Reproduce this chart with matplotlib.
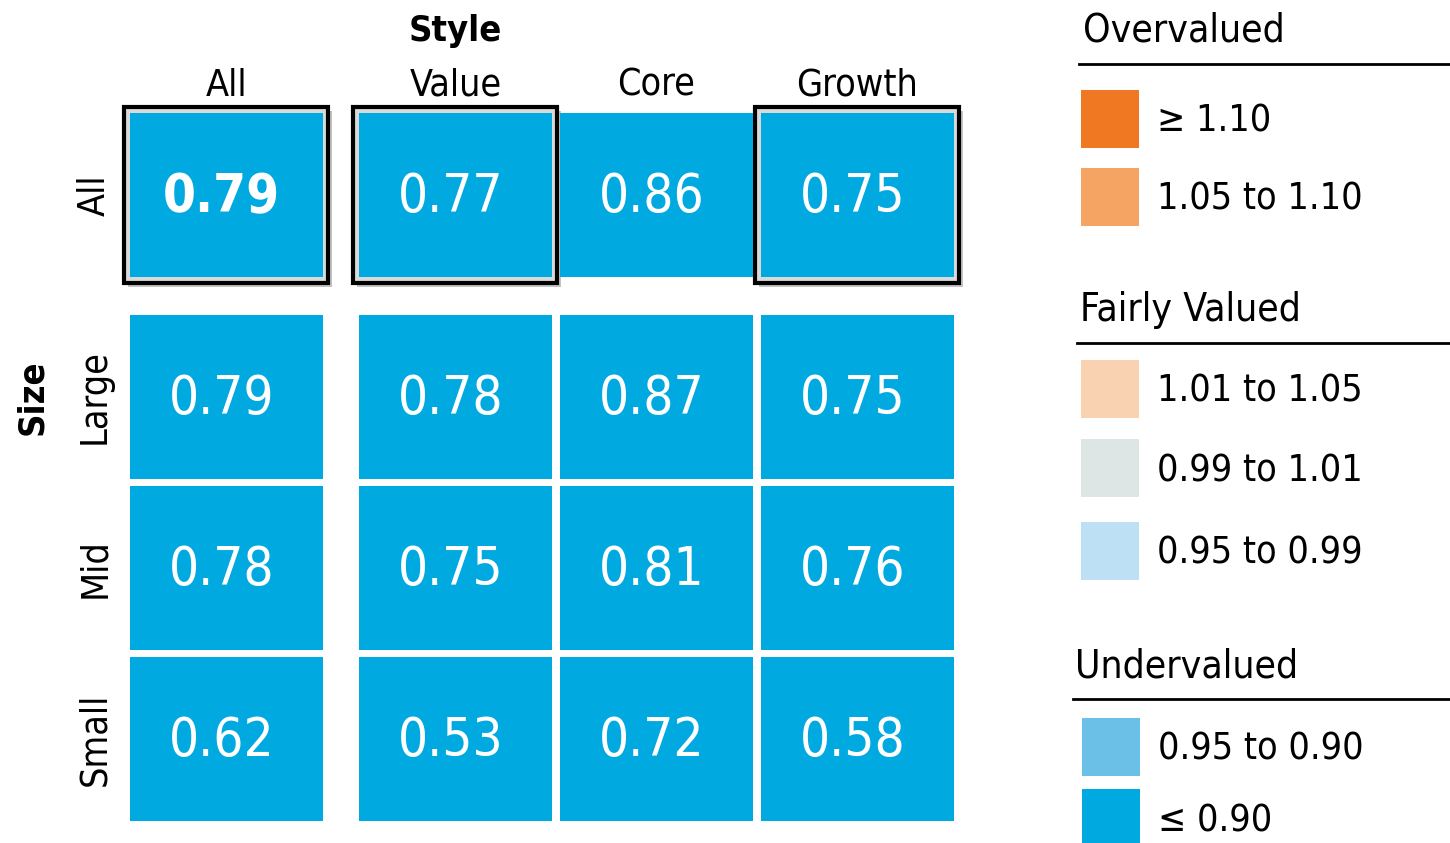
import matplotlib
matplotlib.use("Agg")

import matplotlib.pyplot as plt
import matplotlib.patheffects as pe
from matplotlib.colors import ListedColormap, BoundaryNorm
from matplotlib.patches import Rectangle

plt.rcParams['font.family'] = ['DejaVu Sans']
plt.rcParams['font.stretch'] = 'condensed'

# Data
styles = ["All", "Value", "Core", "Growth"]
sizes = ["All", "Large", "Mid", "Small"]
values = [
    [0.79, 0.77, 0.86, 0.75],
    [0.79, 0.78, 0.87, 0.75],
    [0.78, 0.75, 0.81, 0.76],
    [0.62, 0.53, 0.72, 0.58],
]
boxed = [(0, 0), (0, 1), (0, 3)]
bold_cell = (0, 0)

groups = ["Overvalued", "Fairly Valued", "Undervalued"]
bin_labels = ["\u2265 1.10", "1.05 to 1.10", "1.01 to 1.05", "0.99 to 1.01",
              "0.95 to 0.99", "0.95 to 0.90", "\u2264 0.90"]
bin_group = [0, 0, 1, 1, 1, 2, 2]
bin_colors = ["#F07822", "#F5A464", "#F9D2B1", "#DDE6E4",
              "#BEE0F4", "#6BC0E8", "#00A9E0"]
bin_edges = [0, 0.90, 0.95, 0.99, 1.01, 1.05, 1.10, 10]

cmap = ListedColormap(bin_colors[::-1])
norm = BoundaryNorm(bin_edges, cmap.N)

# Layout (pixels)
fig = plt.figure(figsize=(14.5, 8.43), dpi=100)
ax = fig.add_axes([0, 0, 1, 1])
ax.set_xlim(0, 1450)
ax.set_ylim(843, 0)
ax.axis("off")

cell_w, cell_h = 193, 164
x0, y0 = 130, 113


def col_x(c):
    return x0 + c * 201 + (28 if c >= 1 else 0)


def row_y(r):
    return y0 + r * 171 + (31 if r >= 1 else 0)


# highlight boxes behind the cells
for r, c in boxed:
    box = Rectangle((col_x(c) - 6, row_y(r) - 6), cell_w + 11, cell_h + 12,
                    facecolor="#D9D9D9", edgecolor="black", linewidth=3, zorder=1)
    box.set_path_effects([pe.SimplePatchShadow(offset=(3, -3), shadow_rgbFace="#888888", alpha=0.5),
                          pe.Normal()])
    ax.add_patch(box)

for r in range(len(sizes)):
    for c in range(len(styles)):
        v = values[r][c]
        ax.add_patch(Rectangle((col_x(c), row_y(r)), cell_w, cell_h,
                               facecolor=cmap(norm(v)), edgecolor="none", zorder=2))
        weight = "bold" if (r, c) == bold_cell else "normal"
        ax.text(col_x(c) + cell_w / 2 - 5, row_y(r) + cell_h / 2 + 2, f"{v:.2f}",
                color="white", fontsize=38, fontweight=weight,
                ha="center", va="center", zorder=3)

# Axis labels
for c, s in enumerate(styles):
    ax.text(col_x(c) + cell_w / 2, 86, s, fontsize=27, ha="center", va="center")
ax.text(col_x(1) + cell_w / 2, 31, "Style", fontsize=26, fontweight="bold",
        ha="center", va="center")

for r, s in enumerate(sizes):
    ax.text(95, row_y(r) + cell_h / 2, s, fontsize=27, rotation=90,
            ha="center", va="center")
ax.text(32, row_y(1) + cell_h / 2, "Size", fontsize=26, fontweight="bold",
        rotation=90, ha="center", va="center")

# Legend
header_y = [28, 307, 663]
header_x = [1083, 1080, 1075]
line_x = [1079, 1077, 1073]
swatch_y = [119, 197, 389, 468, 551, 747, 818]
sw = 58

for g, name in enumerate(groups):
    ax.text(header_x[g], header_y[g] + 3, name, fontsize=28, ha="left", va="center")
    ax.plot([line_x[g], 1450], [header_y[g] + 36, header_y[g] + 36],
            color="black", linewidth=2)

for i, lab in enumerate(bin_labels):
    sx = 1081 if bin_group[i] < 2 else 1082
    ax.add_patch(Rectangle((sx, swatch_y[i] - sw / 2), sw, sw,
                           facecolor=bin_colors[i], edgecolor="none"))
    ax.text(sx + sw + 18, swatch_y[i] + 3, lab, fontsize=27, ha="left", va="center")

fig.savefig("out.png", dpi=100)
